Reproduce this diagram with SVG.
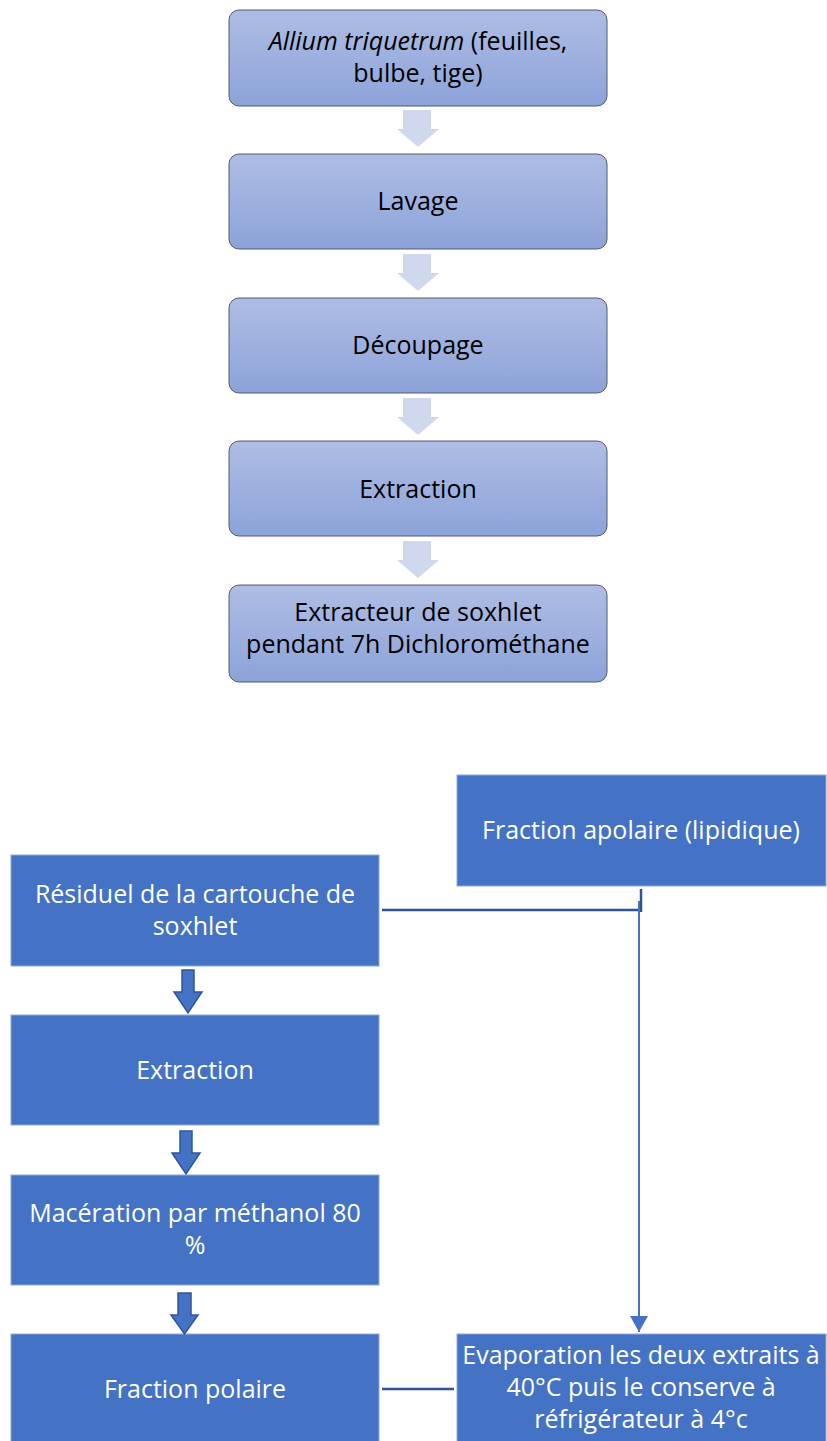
<svg xmlns="http://www.w3.org/2000/svg" width="827" height="1441" viewBox="0 0 827 1441">
<defs>
<linearGradient id="g" x1="0" y1="0" x2="0" y2="1">
<stop offset="0" stop-color="#AFBDE4"/>
<stop offset="1" stop-color="#8CA3D9"/>
</linearGradient>
<marker id="ah2" viewBox="0 0 16 18" refX="16" refY="9" markerWidth="16" markerHeight="18" markerUnits="userSpaceOnUse" orient="auto">
<path d="M0,0 L16,9 L0,18 z" fill="#4472C4"/>
</marker>
</defs>
<style>
.tb{fill:url(#g);stroke:#505a6e;stroke-width:1}
.bb{fill:#4472C4;stroke:#8FAADC;stroke-width:1}
.t{font-family:"Open Sans","Liberation Sans",sans-serif;font-size:25px;text-anchor:middle;fill:#000}
.w{font-family:"Open Sans","Liberation Sans",sans-serif;font-size:25px;text-anchor:middle;fill:#fff}
.la{fill:#D0D8EE}
.da{fill:#4472C4;stroke:#2F5597;stroke-width:1.5}
.cn{stroke:#2F5597;stroke-width:2.5;fill:none}
.cl{stroke:#4472C4;stroke-width:2;fill:none}
</style>
<g id="n1"><rect class="tb" x="229" y="10" width="378" height="96" rx="10"/>
<text class="t" x="418" y="50"><tspan font-style="italic">Allium triquetrum</tspan> (feuilles,</text>
<text class="t" x="418" y="82">bulbe, tige)</text></g>
<g id="n2"><rect class="tb" x="229" y="154" width="378" height="95" rx="10"/>
<text class="t" x="418" y="210">Lavage</text></g>
<g id="n3"><rect class="tb" x="229" y="298" width="378" height="95" rx="10"/>
<text class="t" x="418" y="354">Découpage</text></g>
<g id="n4"><rect class="tb" x="229" y="441" width="378" height="95" rx="10"/>
<text class="t" x="418" y="498">Extraction</text></g>
<g id="n5"><rect class="tb" x="229" y="585" width="378" height="97" rx="10"/>
<text class="t" x="418" y="621">Extracteur de soxhlet</text>
<text class="t" x="418" y="653">pendant 7h Dichlorométhane</text></g>
<g id="n6"><rect class="bb" x="457" y="775" width="369" height="111"/>
<text class="w" x="641" y="839">Fraction apolaire (lipidique)</text></g>
<g id="n7"><rect class="bb" x="11" y="855" width="368" height="111"/>
<text class="w" x="195" y="903">Résiduel de la cartouche de</text>
<text class="w" x="195" y="935">soxhlet</text></g>
<g id="n8"><rect class="bb" x="11" y="1015" width="368" height="110"/>
<text class="w" x="195" y="1079">Extraction</text></g>
<g id="n9"><rect class="bb" x="11" y="1175" width="368" height="110"/>
<text class="w" x="195" y="1222">Macération par méthanol 80</text>
<text class="w" x="195" y="1254">%</text></g>
<g id="n10"><rect class="bb" x="11" y="1334" width="368" height="112"/>
<text class="w" x="195" y="1398">Fraction polaire</text></g>
<g id="n11"><rect class="bb" x="457" y="1334" width="369" height="112"/>
<text class="w" x="641" y="1364">Evaporation les deux extraits à</text>
<text class="w" x="641" y="1396">40°C puis le conserve à</text>
<text class="w" x="641" y="1428">réfrigérateur à 4°c</text></g>
<g id="connectors">
<path class="la" d="M403,110 H431 V129 H439 L418,147 L397,129 H403 Z"/>
<path class="la" d="M403,254 H431 V273 H439 L418,291 L397,273 H403 Z"/>
<path class="la" d="M403,398 H431 V417 H439 L418,435 L397,417 H403 Z"/>
<path class="la" d="M403,541 H431 V560 H439 L418,578 L397,560 H403 Z"/>
<path class="da" d="M182,970 H194 V992 H202 L188,1013 L174,992 H182 Z"/>
<path class="da" d="M180,1131 H192 V1153 H200 L186,1174 L172,1153 H180 Z"/>
<path class="da" d="M178,1293 H191 V1315 H198 L184.5,1334 L171,1315 H178 Z"/>
<path class="cn" d="M382,910 H640"/>
<path class="cn" d="M641,889 V912"/>
<path class="cl" d="M639,901 V1332" marker-end="url(#ah2)"/>
<path class="cn" d="M382,1389 H454"/>
</g>
</svg>
